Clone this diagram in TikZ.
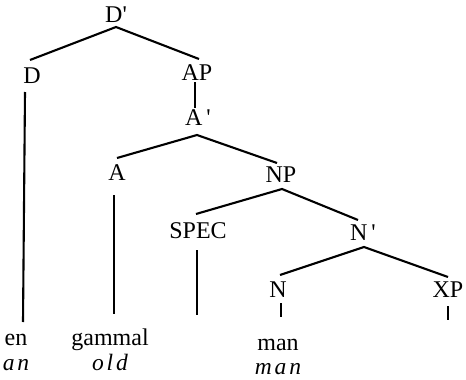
\documentclass[tikz,border=0pt]{standalone}
\usepackage{fontspec}
\setmainfont{Liberation Serif}
\begin{document}
\begin{tikzpicture}[x=1pt,y=-1pt,
  lbl/.style={anchor=base,inner sep=0pt,font=\fontsize{24}{26}\selectfont},
  gl/.style={anchor=base,inner sep=0pt,font=\fontsize{23.5}{26}\selectfont\itshape\addfontfeature{LetterSpace=12}},
  br/.style={line width=2.1pt}]
\useasboundingbox (0,0) rectangle (466,380);
% labels
\node[lbl] (Dp)   at (116,23)  {D\textquotesingle};
\node[lbl] (D)    at (32,83)   {D};
\node[lbl] (AP)   at (197,80)  {AP};
\node[lbl] (Ap)   at (198,125) {A\,\textquotesingle};
\node[lbl] (A)    at (117,180) {A};
\node[lbl] (NP)   at (281,182) {NP};
\node[lbl] (SPEC) at (198,238) {SPEC};
\node[lbl] (Np)   at (363,240) {N\,\textquotesingle};
\node[lbl] (N)    at (278,297) {N};
\node[lbl] (XP)   at (448,297) {XP};
\node[lbl] (en)   at (16,345)  {en};
\node[gl]  (an)   at (16,370)  {an};
\node[lbl] (gam)  at (110,345) {gammal};
\node[gl]  (old)  at (110,370) {old};
\node[lbl] (man)  at (278,350) {man};
\node[gl]  (mang) at (278,374) {man};
% connector end points
\coordinate (c1) at (116,27);  \coordinate (c2) at (30,60);   \coordinate (c3) at (199,59);
\coordinate (c4) at (195,82);  \coordinate (c5) at (195,108);
\coordinate (c6) at (197,135); \coordinate (c7) at (117,158); \coordinate (c8) at (277,163);
\coordinate (c9) at (25,92);   \coordinate (c10) at (23,322);
\coordinate (c11) at (114,195);\coordinate (c12) at (114,314);
\coordinate (c13) at (282,189);\coordinate (c14) at (196,214);\coordinate (c15) at (358,220);
\coordinate (c16) at (197,250);\coordinate (c17) at (197,315);
\coordinate (c18) at (364,247);\coordinate (c19) at (280,275);\coordinate (c20) at (448,277);
\coordinate (c21) at (281,303);\coordinate (c22) at (281,317);
\coordinate (c23) at (448,306);\coordinate (c24) at (448,320);
% branches
\draw[br] (c2) -- (c1) -- (c3);
\draw[br] (c4) -- (c5);
\draw[br] (c7) -- (c6) -- (c8);
\draw[br] (c9) -- (c10);
\draw[br] (c11) -- (c12);
\draw[br] (c14) -- (c13) -- (c15);
\draw[br] (c16) -- (c17);
\draw[br] (c19) -- (c18) -- (c20);
\draw[br] (c21) -- (c22);
\draw[br] (c23) -- (c24);
\end{tikzpicture}
\end{document}
